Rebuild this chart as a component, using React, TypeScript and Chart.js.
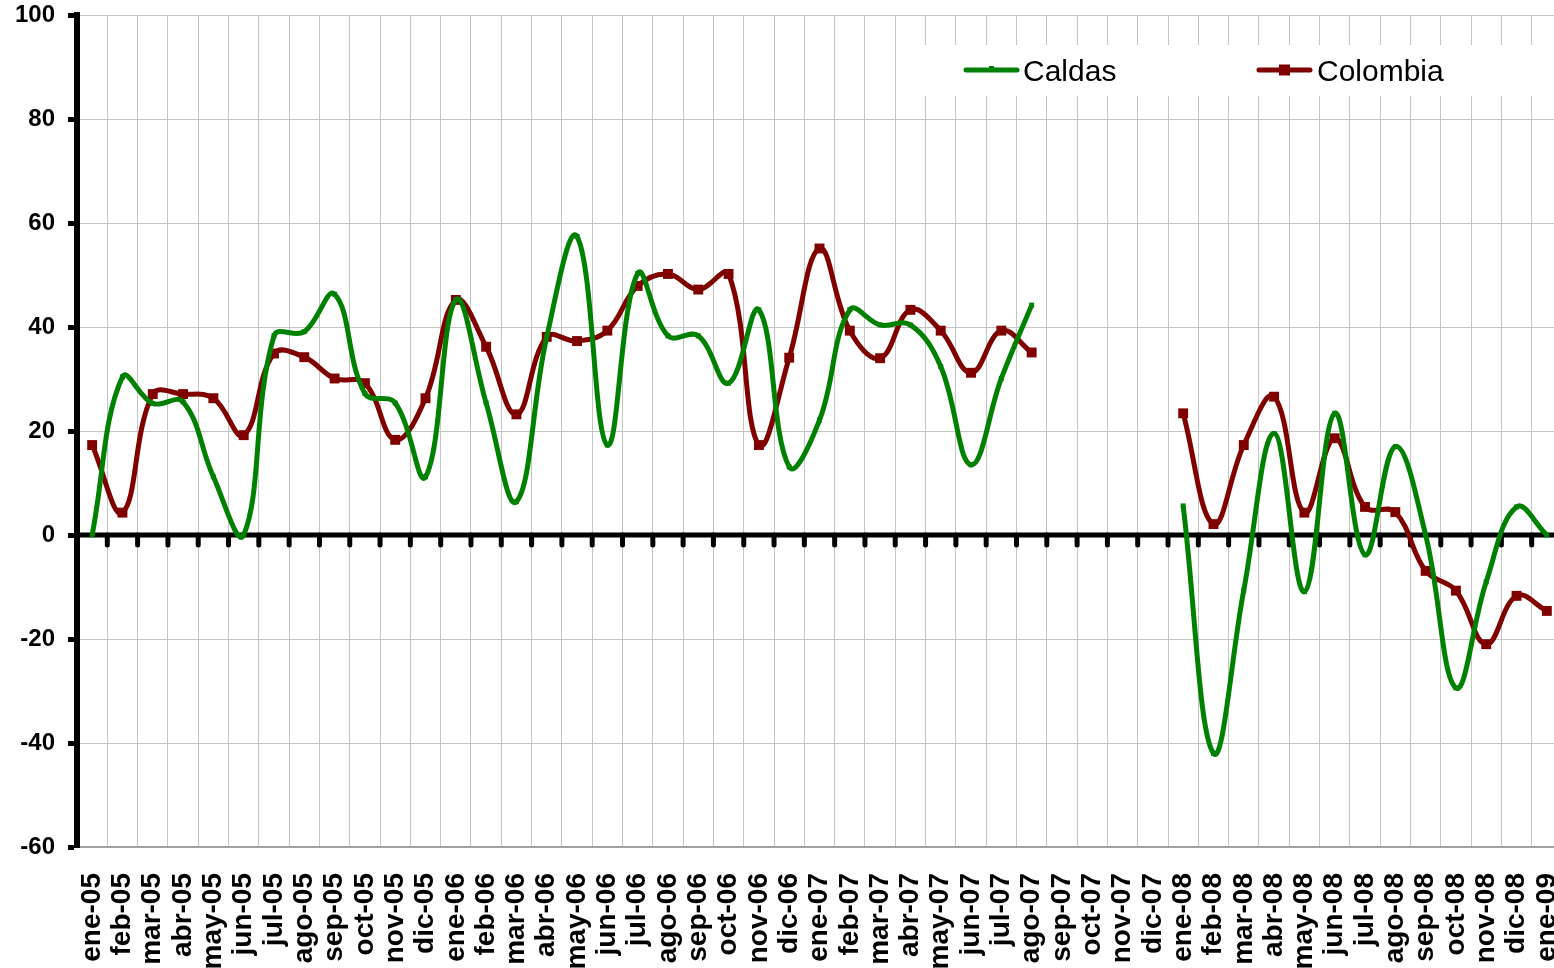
import React, { useEffect, useRef } from "react";
import { Chart, registerables } from "chart.js";

Chart.register(...registerables);

const categories = [
  "ene-05", "feb-05", "mar-05", "abr-05", "may-05", "jun-05", "jul-05", "ago-05", "sep-05", "oct-05", "nov-05", "dic-05",
  "ene-06", "feb-06", "mar-06", "abr-06", "may-06", "jun-06", "jul-06", "ago-06", "sep-06", "oct-06", "nov-06", "dic-06",
  "ene-07", "feb-07", "mar-07", "abr-07", "may-07", "jun-07", "jul-07", "ago-07", "sep-07", "oct-07", "nov-07", "dic-07",
  "ene-08", "feb-08", "mar-08", "abr-08", "may-08", "jun-08", "jul-08", "ago-08", "sep-08", "oct-08", "nov-08", "dic-08",
  "ene-09",
];

const caldas: (number | null)[] = [
  0, 30.4, 25.3, 25.6, 11.2, 0, 38.3, 39.1, 46.3, 27.2, 25.4, 11.2,
  45.2, 25.4, 6.4, 38.1, 57.4, 17.3, 50.3, 38.3, 38.3, 29.2, 43.3, 13.1,
  22.1, 43.3, 40.4, 40.4, 32.4, 13.5, 30.1, 44.2, null, null, null, null,
  5.6, -42, -10.6, 19.5, -10.9, 23.4, -3.8, 17, 0, -29.4, -9, 5.4,
  0,
];

const colombia: (number | null)[] = [
  17.3, 4.3, 27.1, 27.1, 26.3, 19.2, 34.9, 34.2, 30.1, 29.2, 18.3, 26.3,
  45.2, 36.2, 23.2, 38.1, 37.3, 39.3, 47.9, 50.2, 47.2, 50.2, 17.3, 34.1,
  55.1, 39.3, 34, 43.3, 39.3, 31.2, 39.3, 35.1, null, null, null, null,
  23.4, 2.1, 17.3, 26.6, 4.3, 18.6, 5.4, 4.4, -6.9, -10.7, -21, -11.7,
  -14.6,
];

const seriesNames = ["Caldas", "Colombia"];
const seriesColors = ["#008000", "#800000"];
const yMin = -60;
const yMax = 100;
const yStep = 20;

const FONT = "'Liberation Sans', Arial, Helvetica, sans-serif";

const zeroLinePlugin = {
  id: "zeroLine",
  beforeDatasetsDraw(chart: any) {
    const { ctx, chartArea, scales } = chart;
    const y0 = scales.y.getPixelForValue(0);
    const xs = scales.x;
    ctx.save();
    ctx.strokeStyle = "#000";
    ctx.lineCap = "round";
    ctx.lineWidth = 5;
    for (let i = 1; i <= categories.length; i++) {
      const a = xs.getPixelForValue(i - 1);
      const b = i < categories.length ? xs.getPixelForValue(i) : a + (a - xs.getPixelForValue(i - 2));
      const bx = (a + b) / 2;
      ctx.beginPath();
      ctx.moveTo(bx, y0);
      ctx.lineTo(bx, y0 + 10);
      ctx.stroke();
    }
    ctx.lineCap = "butt";
    ctx.beginPath();
    ctx.moveTo(chartArea.left, y0);
    ctx.lineTo(chartArea.right, y0);
    ctx.stroke();
    ctx.restore();
  },
};

const legendPlugin = {
  id: "boxLegend",
  afterDraw(chart: any) {
    const { ctx } = chart;
    ctx.save();
    ctx.fillStyle = "#ffffff";
    ctx.fillRect(918, 45, 700, 51);
    const items = [
      { x: 966, textX: 1023 },
      { x: 1259, textX: 1317 },
    ];
    const y = 70;
    chart.data.datasets.forEach((ds: any, i: number) => {
      const it = items[i];
      ctx.strokeStyle = ds.borderColor;
      ctx.lineWidth = 5;
      ctx.lineCap = "round";
      ctx.beginPath();
      ctx.moveTo(it.x, y);
      ctx.lineTo(it.x + 51, y);
      ctx.stroke();
      ctx.fillStyle = ds.borderColor;
      const s = i === 0 ? 5 : 11;
      ctx.fillRect(it.x + 25.5 - s / 2, y - s / 2 - (i === 0 ? 1.5 : 0), s, s);
      ctx.fillStyle = "#000";
      ctx.font = `30px ${FONT}`;
      ctx.textBaseline = "middle";
      ctx.textAlign = "left";
      ctx.fillText(ds.label, it.textX, y + 3);
    });
    ctx.restore();
  },
};

export default function App() {
  const ref = useRef<HTMLCanvasElement | null>(null);

  useEffect(() => {
    if (!ref.current) return;
    const chart = new Chart(ref.current, {
      type: "line",
      data: {
        labels: categories,
        datasets: [
          {
            label: seriesNames[0],
            data: caldas,
            borderColor: seriesColors[0],
            backgroundColor: seriesColors[0],
            borderWidth: 5,
            pointStyle: "rect",
            pointRadius: 3.5,
            pointBorderWidth: 0,
            tension: 0.4,
            spanGaps: false,
          },
          {
            label: seriesNames[1],
            data: colombia,
            borderColor: seriesColors[1],
            backgroundColor: seriesColors[1],
            borderWidth: 5,
            pointStyle: "rect",
            pointRadius: 7,
            pointBorderWidth: 0,
            tension: 0.4,
            spanGaps: false,
          },
        ],
      },
      options: {
        responsive: false,
        animation: false,
        layout: { padding: { left: 0, top: 15, right: 38, bottom: 0 } },
        plugins: {
          legend: { display: false },
          tooltip: { enabled: false },
        },
        scales: {
          x: {
            type: "category",
            offset: true,
            grid: {
              offset: true,
              color: "#c4c4c4",
              lineWidth: 1,
              drawTicks: false,
            },
            border: { color: "#a0a0a0", width: 2 },
            ticks: {
              autoSkip: false,
              maxRotation: 90,
              minRotation: 90,
              padding: 26,
              color: "#000",
              font: { family: FONT, size: 28, weight: "bold" },
            },
            afterFit: (s: any) => {
              s.height = 121;
              s.paddingLeft = 0;
              s.paddingRight = 0;
            },
          },
          y: {
            min: yMin,
            max: yMax,
            ticks: {
              stepSize: yStep,
              padding: 13,
              color: "#000",
              font: { family: FONT, size: 24, weight: "bold" },
            },
            grid: {
              color: "#c4c4c4",
              lineWidth: 1,
              tickLength: 9,
              tickColor: "#000",
              tickWidth: 5,
            },
            border: { color: "#000", width: 6 },
            afterFit: (s: any) => {
              s.width = 77;
              s.paddingTop = 0;
              s.paddingBottom = 0;
            },
          },
        },
      },
      plugins: [zeroLinePlugin, legendPlugin],
    });
    return () => chart.destroy();
  }, []);

  return (
    <div
      style={{
        position: "absolute",
        left: 0,
        top: 0,
        width: 1554,
        height: 968,
        overflow: "hidden",
        background: "#fff",
      }}
    >
      <canvas ref={ref} width={1600} height={968} style={{ display: "block" }} />
    </div>
  );
}
